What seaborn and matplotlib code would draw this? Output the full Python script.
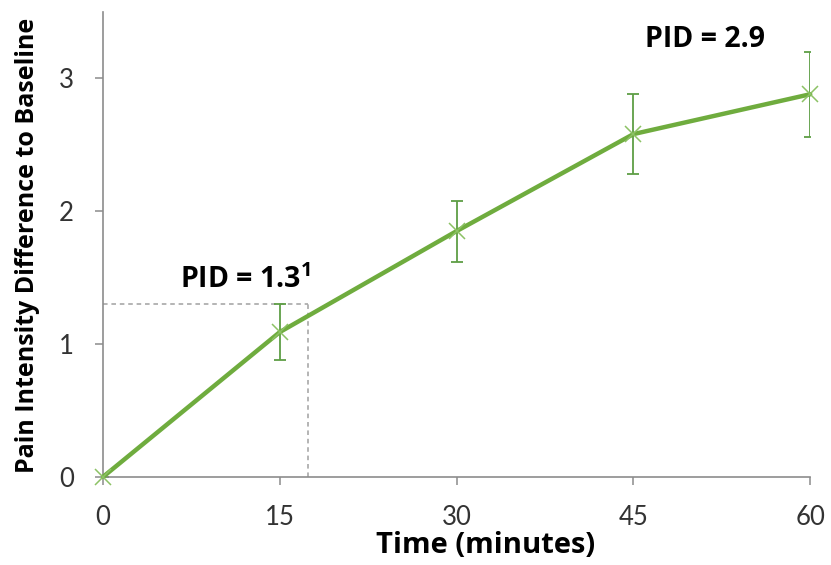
import numpy as np
import pandas as pd
import matplotlib
matplotlib.use("Agg")
import matplotlib.pyplot as plt
import seaborn as sns

# data
time_min = [0, 15, 30, 45, 60]
pid_mean = [0.0, 1.09, 1.85, 2.58, 2.88]
pid_err = [0.0, 0.21, 0.23, 0.30, 0.32]
mcid_value = 1.3
mcid_time = 17.4
x_ticks = [0, 15, 30, 45, 60]
y_ticks = [0, 1, 2, 3]

green = "#6FAC3E"
bar_green = "#5E9E45"
axis_grey = "#8C8C8C"
text_grey = "#333333"

sns.set_theme(style="white")
plt.rcParams["font.family"] = ["Lato", "DejaVu Sans"]
plt.rcParams["mathtext.fontset"] = "custom"
plt.rcParams["mathtext.bf"] = "Open Sans:bold"
plt.rcParams["mathtext.rm"] = "Open Sans"

df = pd.DataFrame({"time": time_min, "pid": pid_mean, "err": pid_err})

fig = plt.figure(figsize=(8.31, 5.65), dpi=100)
ax = fig.add_axes([0.124, 0.156, 0.851, 0.823])

# dashed reference lines for the PID threshold
ax.plot([0, mcid_time], [mcid_value, mcid_value], ls=(0, (3, 2.5)), lw=1.1,
        color="#A0A0A0", zorder=1)
ax.plot([mcid_time, mcid_time], [0, mcid_value], ls=(0, (3, 2.5)), lw=1.1,
        color="#A0A0A0", zorder=1)

ax.errorbar(df["time"], df["pid"], yerr=df["err"], fmt="none",
            ecolor=bar_green, elinewidth=1.3, capsize=4, capthick=1.3,
            zorder=2)
sns.lineplot(data=df, x="time", y="pid", ax=ax, color=green, lw=3.2,
             marker="x", markersize=11, markeredgewidth=1.1,
             markeredgecolor="#8CC265", zorder=3, clip_on=False)

ax.set_xlim(0, 60)
ax.set_ylim(0, 3.5)
ax.set_xticks(x_ticks)
ax.set_yticks(y_ticks)

sns.despine(ax=ax)
for side in ["left", "bottom"]:
    ax.spines[side].set_color(axis_grey)
    ax.spines[side].set_linewidth(1.2)

ax.tick_params(axis="both", which="major", direction="out", length=6,
               width=1.1, color=axis_grey, labelsize=18.5, labelcolor=text_grey,
               bottom=True, left=True)
ax.tick_params(axis="x", pad=14)
ax.tick_params(axis="y", pad=15)

bold = dict(family=["Open Sans", "DejaVu Sans"], fontweight="bold",
            color="black", ha="center", va="center")

ax.set_xlabel("")
ax.set_ylabel("")
fig.text(0.584, 0.034, "Time (minutes)", fontsize=21, **bold)
fig.text(0.033, 0.566, "Pain Intensity Difference to Baseline", fontsize=18,
         rotation=90, **bold)

ax.text(12.1, 1.48, r"PID = 1.3$^{\mathbf{1}}$", fontsize=20.5, **bold)
ax.text(51.1, 3.29, "PID = 2.9", fontsize=20.5, **bold)

fig.savefig("out.png", dpi=100)
